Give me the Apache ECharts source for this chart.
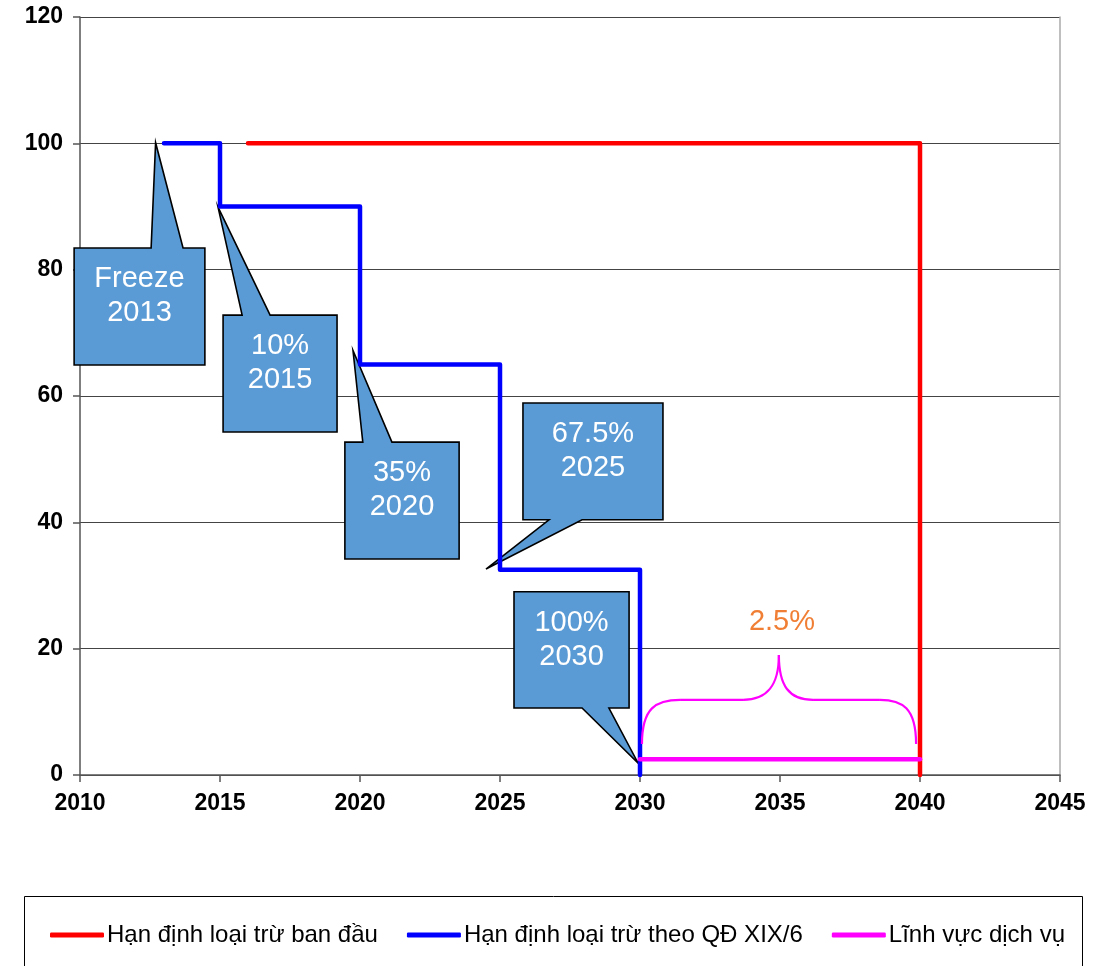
<!DOCTYPE html>
<html>
<head>
<meta charset="utf-8">
<script src="https://cdn.jsdelivr.net/npm/echarts@6/dist/echarts.min.js"></script>
<style>html,body{margin:0;padding:0;background:#fff;}#c{width:1101px;height:966px;}</style>
</head>
<body>
<div id="c"></div>
<script>
// ---- data ----
var seriesNames = ['Hạn định loại trừ ban đầu', 'Hạn định loại trừ theo QĐ XIX/6', 'Lĩnh vực dịch vụ'];
var redYears = [2016, 2040, 2040];
var redValues = [100, 100, 0];
var blueYears = [2013, 2015, 2015, 2020, 2020, 2025, 2025, 2030, 2030];
var blueValues = [100, 100, 90, 90, 65, 65, 32.5, 32.5, 0];
var magentaYears = [2030, 2040];
var magentaValues = [2.5, 2.5];
var calloutTexts = ['Freeze\n2013', '10%\n2015', '35%\n2020', '67.5%\n2025', '100%\n2030'];
var braceLabel = '2.5%';

function pairs(xs, ys) { return xs.map(function (x, i) { return [x, ys[i]]; }); }

// ---- annotation geometry (data coordinates) ----
var callouts = [
  { rect: [2009.79, 2014.46, 83.43, 64.9], base: [2012.54, 2013.68], tip: [2012.7, 100.1], side: 'top' },
  { rect: [2015.11, 2019.18, 72.8, 54.3], base: [2015.79, 2016.79], tip: [2014.93, 89.9], side: 'top' },
  { rect: [2019.46, 2023.54, 52.7, 34.2], base: [2020.1, 2021.14], tip: [2019.75, 67.2], side: 'top' },
  { rect: [2025.82, 2030.82, 58.9, 40.4], base: [2026.75, 2027.93], tip: [2024.5, 32.6], side: 'bottom' },
  { rect: [2025.5, 2029.61, 29.0, 10.6], base: [2027.93, 2028.89], tip: [2029.93, 1.9], side: 'bottom' }
];

var chart = echarts.init(document.getElementById('c'), null, { renderer: 'canvas' });
var FONT = 'Liberation Sans, Arial, sans-serif';
var axisFont = { fontFamily: FONT, fontWeight: 'bold', fontSize: 23, color: '#000' };
var lineStyleBase = { width: 4.5, cap: 'round', join: 'round' };

chart.setOption({
  animation: false,
  grid: { left: 80, right: 41, top: 17, bottom: 191, containLabel: false },
  xAxis: {
    type: 'value', min: 2010, max: 2045, interval: 5,
    axisLine: { show: true, onZero: false, lineStyle: { color: '#555', width: 1.5 } },
    axisTick: { show: true, length: 7, lineStyle: { color: '#555', width: 1.5 } },
    axisLabel: Object.assign({ margin: 17, formatter: function (v) { return String(v); } }, axisFont),
    splitLine: { show: false }
  },
  yAxis: [{
    type: 'value', min: 0, max: 120, interval: 20,
    axisLine: { show: true, lineStyle: { color: '#555', width: 1.5 } },
    axisTick: { show: true, length: 7, lineStyle: { color: '#555', width: 1.5 } },
    axisLabel: Object.assign({ margin: 17 }, axisFont),
    splitLine: { show: true, lineStyle: { color: '#444', width: 1 } }
  }, {
    type: 'value', min: 0, max: 120, interval: 20, position: 'right',
    axisLine: { show: true, lineStyle: { color: '#aaa', width: 1.5 } },
    axisTick: { show: false }, axisLabel: { show: false }, splitLine: { show: false }
  }],
  legend: {
    left: 50, top: 923, padding: 0, itemWidth: 54, itemHeight: 5, itemGap: 29, icon: 'roundRect',
    textStyle: { fontFamily: FONT, fontSize: 24, color: '#000', padding: [0, 0, 0, -2] },
    data: seriesNames
  },
  series: [
    { name: seriesNames[0], type: 'line', data: pairs(redYears, redValues), showSymbol: false, symbol: 'none',
      color: '#FF0000', lineStyle: Object.assign({ color: '#FF0000' }, lineStyleBase), z: 3 },
    { name: seriesNames[1], type: 'line', data: pairs(blueYears, blueValues), showSymbol: false, symbol: 'none',
      color: '#0000FF', lineStyle: Object.assign({ color: '#0000FF' }, lineStyleBase), z: 3 },
    { name: seriesNames[2], type: 'line', data: pairs(magentaYears, magentaValues), showSymbol: false, symbol: 'none',
      color: '#FF00FF', lineStyle: Object.assign({ color: '#FF00FF' }, lineStyleBase), z: 4 }
  ]
});

function px(x, y) { return chart.convertToPixel({ gridIndex: 0 }, [x, y]); }

var graphics = [];
callouts.forEach(function (c, i) {
  var tl = px(c.rect[0], c.rect[2]);
  var br = px(c.rect[1], c.rect[3]);
  var tip = px(c.tip[0], c.tip[1]);
  var b0, b1, pts;
  if (c.side === 'top') {
    b0 = px(c.base[0], c.rect[2]); b1 = px(c.base[1], c.rect[2]);
    pts = [[tl[0], tl[1]], [b0[0], tl[1]], tip, [b1[0], tl[1]], [br[0], tl[1]], [br[0], br[1]], [tl[0], br[1]]];
  } else {
    b0 = px(c.base[0], c.rect[3]); b1 = px(c.base[1], c.rect[3]);
    pts = [[tl[0], tl[1]], [br[0], tl[1]], [br[0], br[1]], [b1[0], br[1]], tip, [b0[0], br[1]], [tl[0], br[1]]];
  }
  graphics.push({ type: 'polygon', z: 1, shape: { points: pts },
    style: { fill: '#5B9BD5', stroke: '#000', lineWidth: 1.6, lineJoin: 'miter' } });
  graphics.push({ type: 'text', z: 2, x: (tl[0] + br[0]) / 2, y: tl[1] + 14,
    style: { text: calloutTexts[i], fill: '#fff', fontSize: 29, lineHeight: 34,
      fontFamily: FONT, align: 'center', verticalAlign: 'top' } });
});

// brace (data coordinates)
var bL = px(2030.07, 4.9), bLh = px(2031.43, 11.9), bMl = px(2033.68, 11.9), bPk = px(2034.96, 19.0);
var bMr = px(2036.18, 11.9), bRh = px(2038.57, 11.9), bR = px(2039.86, 4.9);
var hY = bLh[1];
var braceStyle = { fill: 'none', stroke: '#FF00FF', lineWidth: 2.2 };
function bez(x1, y1, c1x, c1y, c2x, c2y, x2, y2) {
  graphics.push({ type: 'bezierCurve', z: 5, shape: { x1: x1, y1: y1, cpx1: c1x, cpy1: c1y, cpx2: c2x, cpy2: c2y, x2: x2, y2: y2 }, style: braceStyle });
}
function seg(x1, y1, x2, y2) {
  graphics.push({ type: 'line', z: 5, shape: { x1: x1, y1: y1, x2: x2, y2: y2 }, style: braceStyle });
}
bez(bL[0], bL[1], bL[0], hY + 8, bL[0] + 14, hY, bLh[0], hY);
seg(bLh[0], hY, bMl[0], hY);
bez(bMl[0], hY, bMl[0] + 24, hY, bPk[0], hY - 14, bPk[0], bPk[1]);
bez(bPk[0], bPk[1], bPk[0], hY - 14, bMr[0] - 24, hY, bMr[0], hY);
seg(bMr[0], hY, bRh[0], hY);
bez(bRh[0], hY, bR[0] - 14, hY, bR[0], hY + 8, bR[0], bR[1]);

var lbl = px(2035.07, 24.2);
graphics.push({ type: 'text', z: 5, x: lbl[0], y: lbl[1],
  style: { text: braceLabel, fill: '#F07F35', fontSize: 29,
    fontFamily: FONT, align: 'center', verticalAlign: 'middle' } });

// legend frame
graphics.push({ type: 'rect', z: 0, shape: { x: 24.5, y: 896.5, width: 1058, height: 100 },
  style: { fill: 'none', stroke: '#000', lineWidth: 1 } });

chart.setOption({ graphic: graphics });
</script>
</body>
</html>
